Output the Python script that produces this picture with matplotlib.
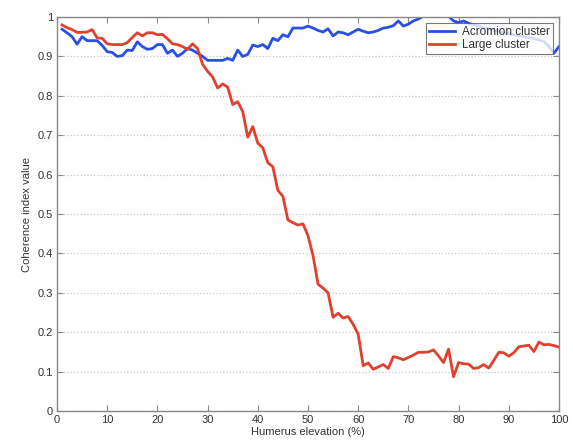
import numpy as np
import matplotlib
matplotlib.use('Agg')
import matplotlib.pyplot as plt

plt.rcParams['font.family'] = ['Liberation Sans', 'DejaVu Sans']

# humerus elevation in %
elevacion = np.arange(1, 101)

acromion = [0.969, 0.960, 0.950, 0.931, 0.950, 0.940, 0.940, 0.940, 0.928, 0.912,
            0.910, 0.900, 0.902, 0.916, 0.915, 0.937, 0.925, 0.918, 0.920, 0.930,
            0.930, 0.908, 0.916, 0.900, 0.908, 0.920, 0.916, 0.908, 0.900, 0.890,
            0.890, 0.890, 0.890, 0.895, 0.890, 0.916, 0.900, 0.905, 0.929, 0.925,
            0.930, 0.920, 0.946, 0.940, 0.955, 0.950, 0.972, 0.972, 0.972, 0.977,
            0.972, 0.966, 0.962, 0.970, 0.952, 0.962, 0.960, 0.955, 0.962, 0.969,
            0.964, 0.960, 0.962, 0.966, 0.972, 0.974, 0.978, 0.990, 0.977, 0.982,
            0.990, 0.995, 1.002, 1.005, 1.003, 1.006, 1.004, 1.002, 0.990, 0.986,
            0.990, 0.984, 0.980, 0.978, 0.972, 0.970, 0.966, 0.964, 0.960, 0.958,
            0.955, 0.952, 0.950, 0.948, 0.945, 0.942, 0.938, 0.925, 0.908, 0.925]

large = [0.980, 0.973, 0.968, 0.961, 0.961, 0.962, 0.968, 0.947, 0.946, 0.932,
         0.930, 0.930, 0.930, 0.935, 0.948, 0.960, 0.952, 0.960, 0.960, 0.955,
         0.956, 0.945, 0.932, 0.930, 0.925, 0.918, 0.932, 0.920, 0.880, 0.862,
         0.848, 0.820, 0.830, 0.822, 0.778, 0.785, 0.760, 0.695, 0.722, 0.680,
         0.668, 0.630, 0.620, 0.560, 0.545, 0.485, 0.478, 0.472, 0.475, 0.445,
         0.395, 0.322, 0.312, 0.300, 0.238, 0.248, 0.236, 0.240, 0.220, 0.195,
         0.115, 0.122, 0.106, 0.112, 0.118, 0.108, 0.138, 0.135, 0.130, 0.136,
         0.142, 0.149, 0.149, 0.150, 0.155, 0.140, 0.123, 0.157, 0.087, 0.123,
         0.120, 0.119, 0.108, 0.110, 0.118, 0.109, 0.128, 0.149, 0.148, 0.139,
         0.148, 0.163, 0.165, 0.167, 0.151, 0.175, 0.168, 0.169, 0.166, 0.162]

fig = plt.figure(figsize=(5.73, 4.43), dpi=100)
ax = fig.add_axes([0.0995, 0.0722, 0.876, 0.8894])

ax.plot(elevacion, acromion, color='#2850e6', lw=2.0, label='Acromion cluster')
ax.plot(elevacion, large, color='#e2402f', lw=2.0, label='Large cluster')

ax.set_xlim(0, 100)
ax.set_ylim(0, 1)
ax.set_xticks(np.arange(0, 101, 10))
ax.set_yticks(np.arange(0, 1.01, 0.1))
ax.set_yticklabels(['0', '0.1', '0.2', '0.3', '0.4', '0.5', '0.6', '0.7', '0.8', '0.9', '1'])
ax.yaxis.grid(True, linestyle=':', color='#c8c8c8', lw=0.9)
ax.tick_params(direction='in', top=True, right=True, length=4, color='#888888',
               labelsize=8, labelcolor='#333333', pad=3)
for s in ax.spines.values():
    s.set_color('#888888')
    s.set_linewidth(1.0)

ax.set_xlabel('Humerus elevation (%)', fontsize=8, color='#333333', labelpad=1)
ax.set_ylabel('Coherence index value', fontsize=8, color='#333333', labelpad=4)

leg = ax.legend(loc='upper right', fontsize=8.5, frameon=True, fancybox=False,
                borderaxespad=0.5, handlelength=2.2, borderpad=0.25, labelspacing=0.1,
                handletextpad=0.6)
leg.get_frame().set_edgecolor('#555555')
leg.get_frame().set_linewidth(0.8)
for t in leg.get_texts():
    t.set_color('#333333')

fig.savefig('out.png', dpi=100)
